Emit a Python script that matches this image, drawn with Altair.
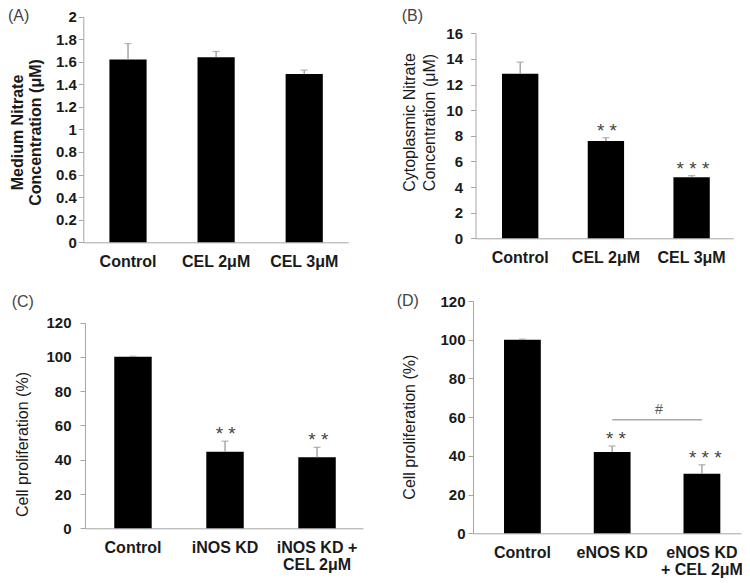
import altair as alt
import pandas as pd

# ---------------- data ----------------
A_cats = ["Control", "CEL 2μM", "CEL 3μM"]
A_vals = [1.62, 1.64, 1.49]
A_errs = [0.14, 0.05, 0.035]
A_stars = ["", "", ""]
A_ticks = [0, 0.2, 0.4, 0.6, 0.8, 1, 1.2, 1.4, 1.6, 1.8, 2]

B_cats = ["Control", "CEL 2μM", "CEL 3μM"]
B_vals = [12.85, 7.6, 4.77]
B_errs = [0.9, 0.25, 0.12]
B_stars = ["", "* *", "* * *"]
B_ticks = [0, 2, 4, 6, 8, 10, 12, 14, 16]

C_cats = ["Control", "iNOS KD", "iNOS KD +\nCEL 2μM"]
C_vals = [100, 44.6, 41.4]
C_errs = [0.3, 6.2, 5.8]
C_stars = ["", "* *", "* *"]

D_cats = ["Control", "eNOS KD", "eNOS KD\n+ CEL 2μM"]
D_vals = [100, 42.0, 30.8]
D_errs = [0.3, 3.1, 4.6]
D_stars = ["", "* *", "* * *"]
D_bracket_from = ["eNOS KD"]
D_bracket_to = ["eNOS KD\n+ CEL 2μM"]
D_bracket_y = [58.7]
D_bracket_text = ["#"]

pct_ticks = [0, 20, 40, 60, 80, 100, 120]

panel_labels = ["(A)", "(B)", "(C)", "(D)"]

# ---------------- styling ----------------
W, H = 734, 570
FONT = "Liberation Sans"
AX_GRAY = "#a6a6a6"
ERR_GRAY = "#9a9a9a"
TXT = "#1a1a1a"


def make_panel(cats, vals, errs, stars, yticks, ydom, xr, pin, pout, xalign, yr,
               yoff, xoff, ytitle, tx, ty, tweight, tlh, lpad):
    df = pd.DataFrame({
        "cat": cats,
        "val": vals,
        "top": [v + e for v, e in zip(vals, errs)],
        "star": stars,
    })

    def xs():
        return alt.Scale(domain=cats, range=xr, paddingInner=pin, paddingOuter=pout,
                         align=xalign)

    def ys():
        return alt.Scale(domain=ydom, range=yr, nice=False)

    xax = alt.Axis(orient="bottom", offset=xoff, title=None, labelAngle=0, ticks=False,
                   domainColor=AX_GRAY, domainWidth=1, labelFont=FONT, labelFontSize=16,
                   labelFontWeight="bold", labelColor=TXT, labelPadding=11,
                   labelLineHeight=17, labelOverlap=False,
                   labelExpr="split(datum.label, '\\n')")
    yax = alt.Axis(orient="left", offset=yoff, values=yticks, format="~r", grid=False,
                   domainColor=AX_GRAY, domainWidth=1, tickColor=AX_GRAY, tickSize=5,
                   labelFont=FONT, labelFontSize=15, labelFontWeight="bold",
                   labelColor=TXT, labelPadding=lpad, labelOverlap=False,
                   title=ytitle, titleFont=FONT, titleFontSize=16,
                   titleFontWeight=tweight, titleColor=TXT, titleAngle=270,
                   titleX=tx, titleY=ty, titleAlign="center", titleBaseline="middle",
                   titleLineHeight=tlh)
    base = alt.Chart(df)
    bars = base.mark_bar(color="black").encode(
        x=alt.X("cat:N", scale=xs(), axis=xax),
        y=alt.Y("val:Q", scale=ys(), axis=yax),
    )
    err = base.mark_rule(color=ERR_GRAY, strokeWidth=1.3).encode(
        x=alt.X("cat:N", scale=xs(), axis=None),
        y=alt.Y("val:Q", scale=ys(), axis=None), y2="top:Q")
    cap = base.mark_tick(color=ERR_GRAY, size=7, thickness=1.3).encode(
        x=alt.X("cat:N", scale=xs(), axis=None),
        y=alt.Y("top:Q", scale=ys(), axis=None))
    star = base.mark_text(baseline="alphabetic", dy=-1, fontSize=19, font=FONT,
                          color="#444").encode(
        x=alt.X("cat:N", scale=xs(), axis=None),
        y=alt.Y("top:Q", scale=ys(), axis=None), text="star:N")
    return [bars, err, cap, star], xs, ys


# page coords -> view coords: subtract 8
pA, _, _ = make_panel(A_cats, A_vals, A_errs, A_stars, A_ticks, [0, 2],
                      [75.3, 340.3], 0.578, 0.293, 0.506, [234.3, 8.5],
                      -75.3, 234.3 - H, ["Medium Nitrate", "Concentration (μM)"],
                      -66, 124, "bold", 18, 2)
pB, _, _ = make_panel(B_cats, B_vals, B_errs, B_stars, B_ticks, [0, 16],
                      [467.5, 725.3], 0.576, 0.292, 0.53, [230.3, 25.3],
                      -467.5, 230.3 - H, ["Cytoplasmic Nitrate", "Concentration (μM)"],
                      -66.5, 114, "normal", 20, 8)
pC, _, _ = make_panel(C_cats, C_vals, C_errs, C_stars, pct_ticks, [0, 120],
                      [77, 355], 0.593, 0.307, 0.518, [520.3, 314.5],
                      -77, 520.3 - H, "Cell proliferation (%)",
                      -62.5, 436, "normal", 18, 9)
pD, xsD, ysD = make_panel(D_cats, D_vals, D_errs, D_stars, pct_ticks, [0, 120],
                          [465, 733], 0.59, 0.288, 0.60, [525.3, 293],
                          -465, 525.3 - H, "Cell proliferation (%)",
                          -64, 418.7, "normal", 18, 3)

brk_df = pd.DataFrame({"x1": D_bracket_from, "x2": D_bracket_to,
                       "y": D_bracket_y, "t": D_bracket_text})
brk = alt.Chart(brk_df).mark_rule(color="#aaaaaa", strokeWidth=1.5).encode(
    x=alt.X("x1:N", scale=xsD(), axis=None), x2="x2:N",
    y=alt.Y("y:Q", scale=ysD(), axis=None))
hsh = alt.Chart(brk_df).mark_text(baseline="bottom", dx=43, dy=-3, fontSize=14,
                                  font=FONT, color="#555").encode(
    x=alt.X("x1:N", scale=xsD(), axis=None),
    y=alt.Y("y:Q", scale=ysD(), axis=None), text="t:N")

label_pos = [(0, 0), (393.7, 0), (3.7, 285.5), (388.7, 285)]
label_layers = []
for lab, (lx, ly) in zip(panel_labels, label_pos):
    label_layers.append(
        alt.Chart(pd.DataFrame({"t": [lab]})).mark_text(
            align="left", baseline="top", fontSize=16, font=FONT, color="#444"
        ).encode(text="t:N", x=alt.value(lx), y=alt.value(ly))
    )

chart = alt.layer(*pA, *pB, *pC, *pD, brk, hsh, *label_layers).resolve_scale(
    x="independent", y="independent"
).resolve_axis(
    x="independent", y="independent"
).properties(
    width=W, height=H, padding=0,
    autosize=alt.AutoSizeParams(type="none"),
    background="white",
).configure_view(stroke=None)

chart.save("out.html", embed_options={"renderer": "svg", "actions": False})
